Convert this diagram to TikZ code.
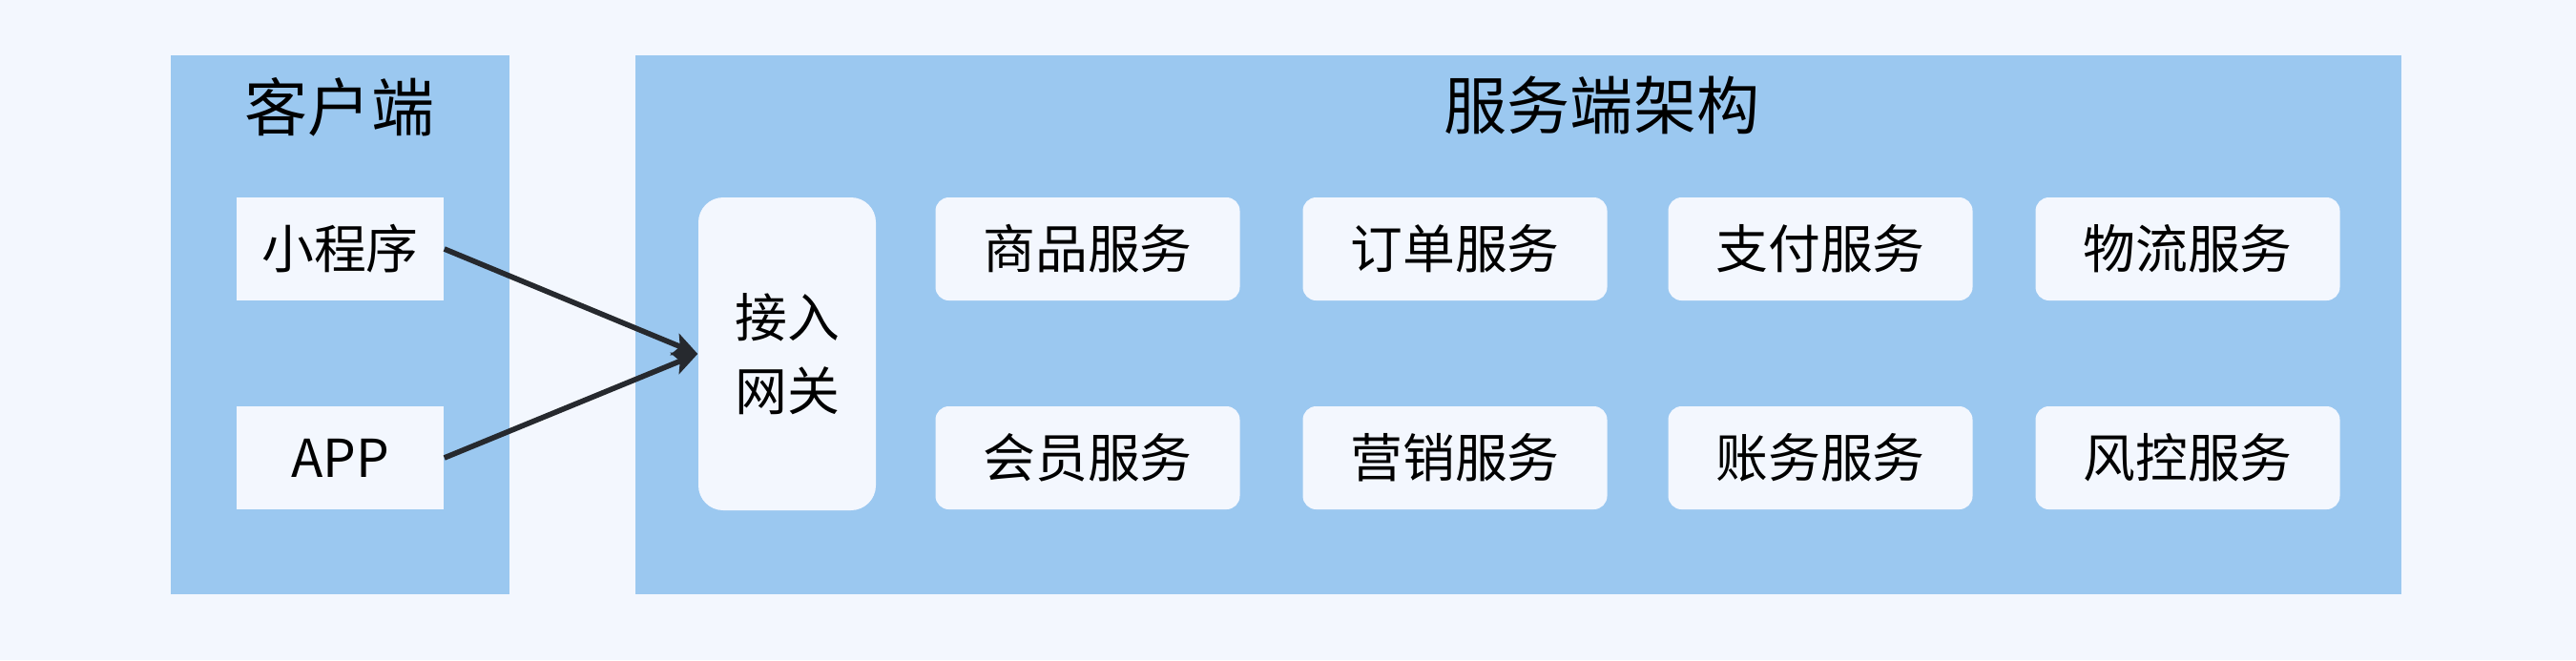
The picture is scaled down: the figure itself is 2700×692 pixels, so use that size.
\documentclass[tikz,border=0pt]{standalone}
\usepackage{fontspec}
\setmainfont{Noto Sans CJK SC}
\usetikzlibrary{arrows.meta}
\definecolor{bg}{HTML}{F3F7FE}
\definecolor{panel}{HTML}{9BC8F0}
\definecolor{ink}{HTML}{26292E}
\begin{document}
\begin{tikzpicture}[x=0.1mm,y=-0.1mm,
  panelbox/.style={fill=panel,draw=none},
  titletext/.style={font=\fontsize{18.8pt}{22pt}\selectfont,text=black,inner sep=0pt},
  clientbox/.style={fill=bg,draw=none,minimum width=21.7mm,minimum height=10.8mm,inner sep=0pt,
    font=\fontsize{15.6pt}{19pt}\selectfont},
  gatebox/.style={fill=bg,draw=none,rounded corners=2.6mm,minimum width=18.6mm,minimum height=32.8mm,
    inner sep=0pt,align=center,font=\fontsize{15.6pt}{21.9pt}\selectfont},
  svcbox/.style={fill=bg,draw=none,rounded corners=1.4mm,minimum width=31.9mm,minimum height=10.8mm,
    inner sep=0pt,font=\fontsize{15.6pt}{19pt}\selectfont},
  conn/.style={draw=ink,line width=1.6pt,-{Stealth[length=2.6mm,width=2.4mm,inset=0.6mm]}}]
  \fill[bg] (0,0) rectangle (2700,692);
  \useasboundingbox (0,0) rectangle (2700,692);
  % panels
  \path[panelbox] (179,58) rectangle (534,623);
  \path[panelbox] (666,58) rectangle (2517,623);
  \node[titletext] (ctitle) at (356,112) {客户端};
  \node[titletext] (stitle) at (1679,110) {服务端架构};
  % clients
  \node[clientbox] (mini) at (356.5,261) {小程序};
  \node[clientbox] (app) at (356.5,480) {APP};
  % gateway
  \node[gatebox] (gw) at (825,371) {接入\\网关};
  % services
  \node[svcbox] (s1) at (1140,261) {商品服务};
  \node[svcbox] (s2) at (1525,261) {订单服务};
  \node[svcbox] (s3) at (1908,261) {支付服务};
  \node[svcbox] (s4) at (2293,261) {物流服务};
  \node[svcbox] (s5) at (1140,480) {会员服务};
  \node[svcbox] (s6) at (1525,480) {营销服务};
  \node[svcbox] (s7) at (1908,480) {账务服务};
  \node[svcbox] (s8) at (2293,480) {风控服务};
  % connectors
  \draw[conn] (mini.east) -- (gw.west);
  \draw[conn] (app.east) -- (gw.west);
\end{tikzpicture}
\end{document}
